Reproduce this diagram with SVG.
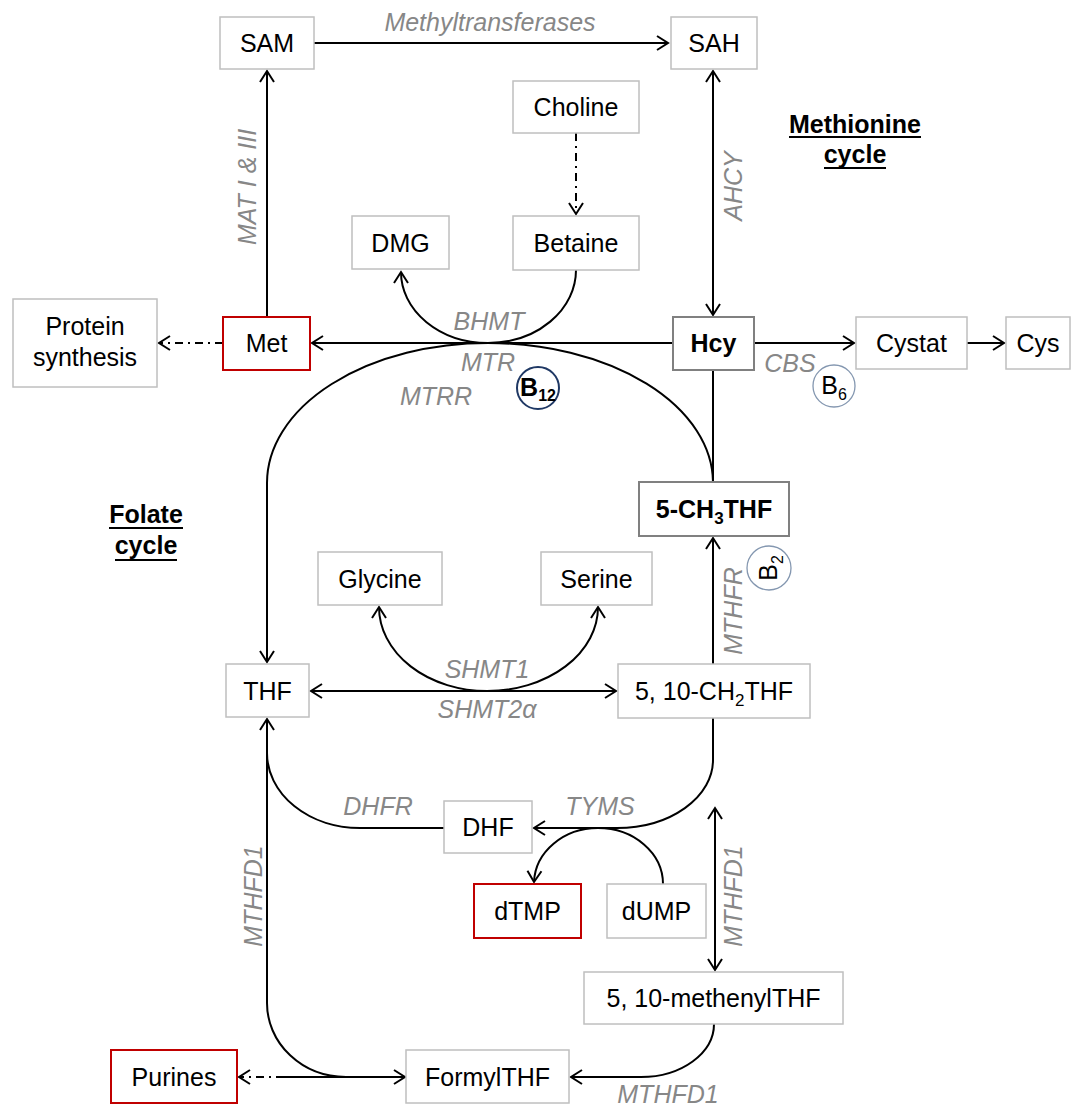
<svg xmlns="http://www.w3.org/2000/svg" width="1074" height="1109" viewBox="0 0 1074 1109">
<defs>
<style>
.box{fill:#fff;stroke:#bfbfbf;stroke-width:1.5}
.boxd{fill:#fff;stroke:#808080;stroke-width:2}
.boxr{fill:#fff;stroke:#c00000;stroke-width:2}
text{font-family:"Liberation Sans",Arial,sans-serif;font-size:25px}
.t{fill:#000;text-anchor:middle}
.b{font-weight:bold}
.lbl{fill:#878787;font-style:italic;text-anchor:middle}
.c{fill:none;stroke:#000;stroke-width:2}
.dd{stroke-dasharray:8 5 2 5}
.vit{fill:#fff;stroke:#8497b0;stroke-width:1.3}
.vitd{fill:#fff;stroke:#1f3864;stroke-width:2}
.ul{stroke:#000;stroke-width:2}
</style>
<marker id="arr" viewBox="-14 -10 16 20" refX="0" refY="0" markerWidth="16" markerHeight="20" markerUnits="userSpaceOnUse" orient="auto-start-reverse">
<path d="M-11,-7 L0,0 L-11,7" fill="none" stroke="#000" stroke-width="2"/>
</marker>
</defs>
<rect width="1074" height="1109" fill="#fff"/>

<g id="connectors">
<path class="c" d="M314,43 L668,43" marker-end="url(#arr)"/>
<path class="c" d="M267,317 L267,71" marker-end="url(#arr)"/>
<path class="c dd" d="M576,133 L576,214" marker-end="url(#arr)"/>
<path class="c" d="M713,71 L713,315" marker-start="url(#arr)" marker-end="url(#arr)"/>
<path class="c" d="M672,343 L312,343" marker-end="url(#arr)"/>
<path class="c" d="M576,270 A88,73 0 0 1 488,343"/>
<path class="c" d="M488,343 A87,71 0 0 1 401,272" marker-end="url(#arr)"/>
<path class="c" d="M713,482 A225,140 0 0 0 488,343 A221,140 0 0 0 267,483 L267,662" marker-end="url(#arr)"/>
<path class="c" d="M713,370 L713,482"/>
<path class="c" d="M754,343 L854,343" marker-end="url(#arr)"/>
<path class="c" d="M967,343 L1004,343" marker-end="url(#arr)"/>
<path class="c dd" d="M223,343 L159,343" marker-end="url(#arr)"/>
<path class="c" d="M713,664 L713,538" marker-end="url(#arr)"/>
<path class="c" d="M311,691 L616,691" marker-start="url(#arr)" marker-end="url(#arr)"/>
<path class="c" d="M379,607 A108,84 0 0 0 487,691 A111,84 0 0 0 598,607" marker-start="url(#arr)" marker-end="url(#arr)"/>
<path class="c" d="M713,718 L713,760 A96,68 0 0 1 617,828 L534,828" marker-end="url(#arr)"/>
<path class="c" d="M444,828 L360,828 A93,75 0 0 1 267,753"/>
<path class="c" d="M267,719 L267,1003 A79,74 0 0 0 346,1077 L405,1077" marker-start="url(#arr)" marker-end="url(#arr)"/>
<path class="c" d="M663,884 A65,56 0 0 0 598,828 A64,56 0 0 0 534,882" marker-end="url(#arr)"/>
<path class="c" d="M715,808 L715,970" marker-start="url(#arr)" marker-end="url(#arr)"/>
<path class="c" d="M714,1024 A73,53 0 0 1 641,1077 L571,1077" marker-end="url(#arr)"/>
<path class="c" d="M346,1077 L284,1077"/>
<path class="c dd" d="M284,1077 L239,1077" marker-end="url(#arr)"/>
</g>

<g id="node-SAM"><rect class="box" x="220" y="17" width="94" height="52"/><text class="t" x="267" y="52">SAM</text></g>
<g id="node-SAH"><rect class="box" x="671" y="17" width="86" height="52"/><text class="t" x="714" y="52">SAH</text></g>
<g id="node-Choline"><rect class="box" x="513" y="81" width="126" height="52"/><text class="t" x="576" y="116">Choline</text></g>
<g id="node-DMG"><rect class="box" x="352" y="216" width="97" height="53"/><text class="t" x="400.5" y="252">DMG</text></g>
<g id="node-Betaine"><rect class="box" x="513" y="216" width="126" height="54"/><text class="t" x="576" y="252">Betaine</text></g>
<g id="node-Protein"><rect class="box" x="13" y="299" width="144" height="88"/><text class="t" x="85" y="335">Protein</text><text class="t" x="85" y="366">synthesis</text></g>
<g id="node-Met"><rect class="boxr" x="223" y="317" width="87" height="53"/><text class="t" x="266.5" y="352">Met</text></g>
<g id="node-Hcy"><rect class="boxd" x="673" y="317" width="81" height="53"/><text class="t b" x="713.5" y="352">Hcy</text></g>
<g id="node-Cystat"><rect class="box" x="856" y="317" width="111" height="52"/><text class="t" x="911.5" y="352">Cystat</text></g>
<g id="node-Cys"><rect class="box" x="1006" y="317" width="64" height="52"/><text class="t" x="1038" y="352">Cys</text></g>
<g id="node-CH3THF"><rect class="boxd" x="639" y="482" width="150" height="54"/><text class="t b" x="714" y="518">5-CH<tspan font-size="17" dy="6">3</tspan><tspan dy="-6">THF</tspan></text></g>
<g id="node-Glycine"><rect class="box" x="318" y="552" width="124" height="53"/><text class="t" x="380" y="588">Glycine</text></g>
<g id="node-Serine"><rect class="box" x="541" y="552" width="111" height="53"/><text class="t" x="596.5" y="588">Serine</text></g>
<g id="node-THF"><rect class="box" x="226" y="664" width="83" height="53"/><text class="t" x="267.5" y="700">THF</text></g>
<g id="node-CH2THF"><rect class="box" x="618" y="664" width="192" height="54"/><text class="t" x="714" y="700">5, 10-CH<tspan font-size="17" dy="6">2</tspan><tspan dy="-6">THF</tspan></text></g>
<g id="node-DHF"><rect class="box" x="444" y="801" width="88" height="52"/><text class="t" x="488" y="836">DHF</text></g>
<g id="node-dTMP"><rect class="boxr" x="474" y="884" width="107" height="54"/><text class="t" x="527.5" y="920">dTMP</text></g>
<g id="node-dUMP"><rect class="box" x="607" y="884" width="99" height="54"/><text class="t" x="656.5" y="920">dUMP</text></g>
<g id="node-methenylTHF"><rect class="box" x="584" y="972" width="259" height="52"/><text class="t" x="713.5" y="1007">5, 10-methenylTHF</text></g>
<g id="node-FormylTHF"><rect class="box" x="406" y="1050" width="163" height="53"/><text class="t" x="487.5" y="1086">FormylTHF</text></g>
<g id="node-Purines"><rect class="boxr" x="111" y="1050" width="126" height="53"/><text class="t" x="174" y="1086">Purines</text></g>

<g id="vit-B12"><circle class="vitd" cx="538" cy="388" r="21"/><text class="t b" x="538" y="396" font-size="23">B<tspan font-size="16" dy="5">12</tspan></text></g>
<g id="vit-B6"><circle class="vit" cx="834" cy="386" r="21"/><text class="t" x="834" y="394" font-size="23">B<tspan font-size="16" dy="6">6</tspan></text></g>
<g id="vit-B2"><circle class="vit" cx="769" cy="568" r="22"/><text class="t" transform="translate(769,568) rotate(-90)" x="0" y="8" font-size="23">B<tspan font-size="16" dy="6">2</tspan></text></g>

<g id="labels">
<text class="lbl" x="490" y="31">Methyltransferases</text>
<text class="lbl" transform="translate(247,187) rotate(-90)" x="0" y="9">MAT I &amp; III</text>
<text class="lbl" transform="translate(733,186) rotate(-90)" x="0" y="9">AHCY</text>
<text class="lbl" x="489" y="330">BHMT</text>
<text class="lbl" x="488" y="371">MTR</text>
<text class="lbl" x="436" y="405">MTRR</text>
<text class="lbl" x="790" y="372">CBS</text>
<text class="lbl" transform="translate(733,611) rotate(-90)" x="0" y="9">MTHFR</text>
<text class="lbl" x="487" y="678">SHMT1</text>
<text class="lbl" x="487" y="718">SHMT2α</text>
<text class="lbl" x="378" y="815">DHFR</text>
<text class="lbl" x="600" y="815">TYMS</text>
<text class="lbl" transform="translate(253,896) rotate(-90)" x="0" y="9">MTHFD1</text>
<text class="lbl" transform="translate(733,896) rotate(-90)" x="0" y="9">MTHFD1</text>
<text class="lbl" x="668" y="1103">MTHFD1</text>
</g>

<g id="cycle-titles">
<text class="t b" x="855" y="133">Methionine</text>
<line class="ul" x1="789" y1="137" x2="921" y2="137"/>
<text class="t b" x="855" y="163">cycle</text>
<line class="ul" x1="824" y1="168" x2="886" y2="168"/>
<text class="t b" x="146" y="523">Folate</text>
<line class="ul" x1="109" y1="528" x2="183" y2="528"/>
<text class="t b" x="146" y="554">cycle</text>
<line class="ul" x1="115" y1="560" x2="177" y2="560"/>
</g>
</svg>
